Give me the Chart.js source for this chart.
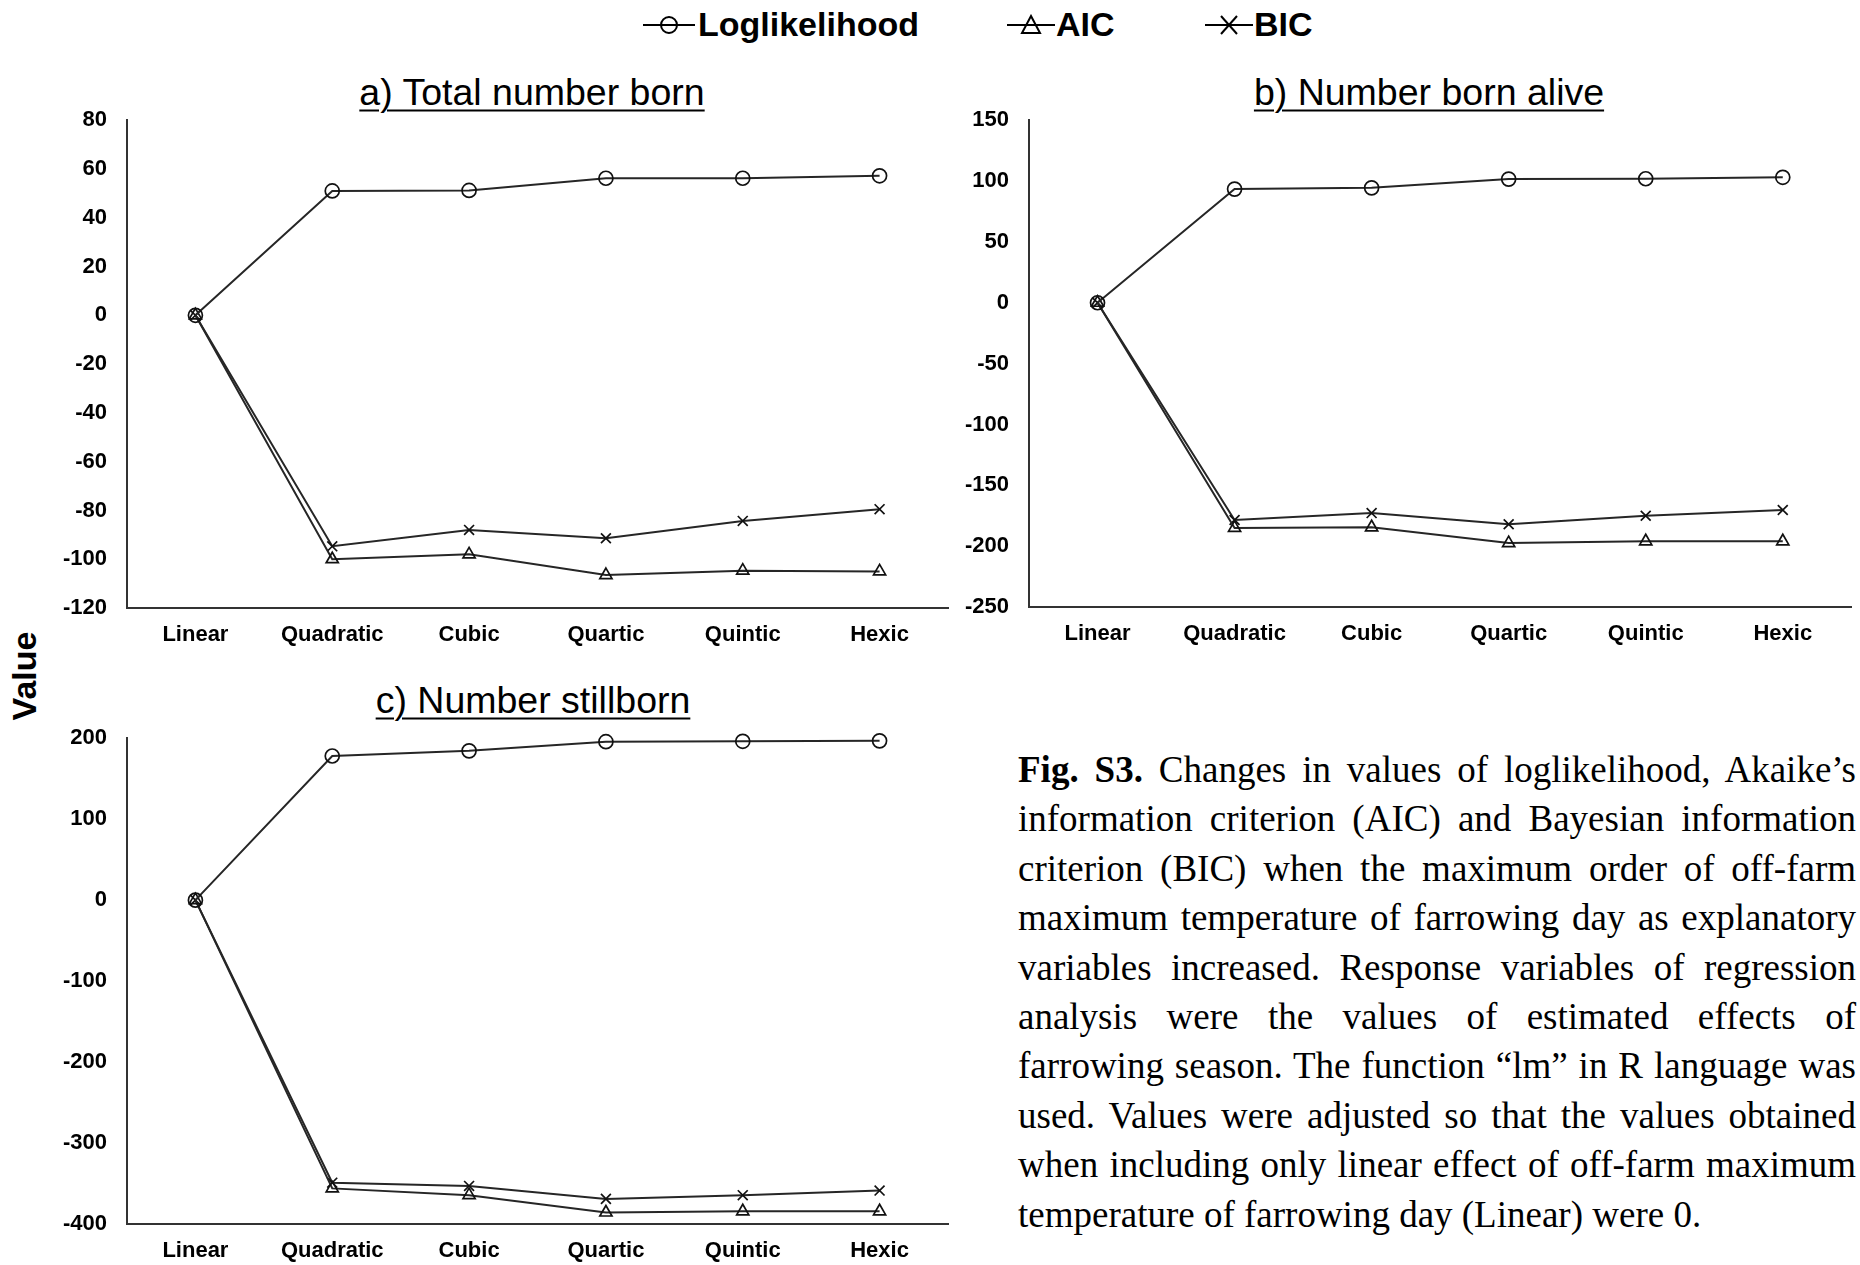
<!DOCTYPE html>
<html>
<head>
<meta charset="utf-8">
<script src="https://cdn.jsdelivr.net/npm/chart.js@4.4.1/dist/chart.umd.min.js"></script>
<style>
body { margin: 0; width: 1860px; height: 1265px; background: #fff; position: relative; overflow: hidden;
       font-family: "Liberation Sans", Arial, sans-serif; color: #000; }
canvas { position: absolute; }
.title { position: absolute; font-size: 37.5px; text-decoration: underline; text-decoration-thickness: 2px;
         text-underline-offset: 5px; transform: translate(-50%, -50%); white-space: nowrap; }
.leg { position: absolute; font-weight: bold; font-size: 34px; line-height: 40px; top: 4px; }
.legsym { position: absolute; top: 14px; }
.ylab { position: absolute; left: 24px; top: 676px; font-weight: bold; font-size: 34px;
        transform: translate(-50%, -50%) rotate(-90deg); }
.caption { position: absolute; left: 1018px; top: 745px; width: 838px; font-family: "Liberation Serif", "Times New Roman", serif;
           font-size: 37px; line-height: 49.4px; }
.caption div { text-align: justify; text-align-last: justify; }
.caption div.last { text-align-last: left; }
</style>
</head>
<body>

<svg class="legsym" style="left:643px" width="52" height="22"><line x1="0" y1="11" x2="52" y2="11" stroke="#000" stroke-width="2"/><circle cx="26" cy="11" r="8" fill="none" stroke="#000" stroke-width="2"/></svg>
<div class="leg" style="left:698px">Loglikelihood</div>
<svg class="legsym" style="left:1007px" width="48" height="22"><line x1="0" y1="11" x2="48" y2="11" stroke="#000" stroke-width="2"/><polygon points="24,2 33,19 15,19" fill="none" stroke="#000" stroke-width="2"/></svg>
<div class="leg" style="left:1056px">AIC</div>
<svg class="legsym" style="left:1205px" width="48" height="22"><line x1="0" y1="11" x2="48" y2="11" stroke="#000" stroke-width="2"/><line x1="16" y1="2" x2="32" y2="20" stroke="#000" stroke-width="2"/><line x1="32" y1="2" x2="16" y2="20" stroke="#000" stroke-width="2"/></svg>
<div class="leg" style="left:1254px">BIC</div>

<div class="title" style="left:532px; top:92px">a) Total number born</div>
<div class="title" style="left:1429px; top:92px">b) Number born alive</div>
<div class="title" style="left:533px; top:700px">c) Number stillborn</div>
<div class="ylab">Value</div>

<canvas id="chartA" width="930" height="583" style="left:30px; top:87px"></canvas>
<canvas id="chartB" width="905" height="583" style="left:955px; top:87px"></canvas>
<canvas id="chartC" width="930" height="560" style="left:30px; top:705px"></canvas>

<div class="caption">
<div><b>Fig. S3.</b> Changes in values of loglikelihood, Akaike’s</div>
<div>information criterion (AIC) and Bayesian information</div>
<div>criterion (BIC) when the maximum order of off-farm</div>
<div>maximum temperature of farrowing day as explanatory</div>
<div>variables increased. Response variables of regression</div>
<div>analysis were the values of estimated effects of</div>
<div>farrowing season. The function “lm” in R language was</div>
<div>used. Values were adjusted so that the values obtained</div>
<div>when including only linear effect of off-farm maximum</div>
<div class="last">temperature of farrowing day (Linear) were 0.</div>
</div>

<script>
// categories
var orders = ['Linear', 'Quadratic', 'Cubic', 'Quartic', 'Quintic', 'Hexic'];

// a) Total number born
var totalLoglik = [0, 51, 51.2, 56.2, 56.2, 57.2];
var totalAIC = [0, -100, -98, -106.5, -104.7, -105];
var totalBIC = [0, -94.7, -88, -91.4, -84.3, -79.5];
var totalTicks = [-120, 80, 20];   // min, max, step

// b) Number born alive
var aliveLoglik = [0, 93.4, 94.4, 101.6, 101.9, 103.1];
var aliveAIC = [0, -185, -184.5, -197.5, -196, -196];
var aliveBIC = [0, -178.5, -172.8, -182, -175, -170.3];
var aliveTicks = [-250, 150, 50];

// c) Number stillborn
var stillLoglik = [0, 178, 184.4, 195.7, 196.2, 196.7];
var stillAIC = [0, -356, -364.4, -385.8, -384.3, -384.3];
var stillBIC = [0, -349, -353, -369, -364.4, -358.7];
var stillTicks = [-400, 200, 100];

var lineColor = '#262626';
var fontFamily = '"Liberation Sans", Arial, sans-serif';

function series(label, data, style) {
    return {
        label: label,
        data: data,
        borderColor: lineColor,
        borderWidth: 2,
        pointStyle: style,
        pointRadius: 7,
        pointBorderWidth: 1.7,
        pointBorderColor: '#111',
        pointBackgroundColor: 'rgba(0,0,0,0)',
        tension: 0,
        clip: false
    };
}

function makePanel(id, loglik, aic, bic, ticks, yWidth, xHeight, pad) {
    var ctx = document.getElementById(id).getContext('2d');
    return new Chart(ctx, {
        type: 'line',
        data: {
            labels: orders,
            datasets: [
                series('Loglikelihood', loglik, 'circle'),
                series('AIC', aic, 'triangle'),
                series('BIC', bic, 'crossRot')
            ]
        },
        options: {
            responsive: false,
            animation: false,
            devicePixelRatio: 1,
            layout: { padding: pad },
            plugins: { legend: { display: false }, tooltip: { enabled: false } },
            scales: {
                x: {
                    offset: true,
                    grid: { display: false, drawTicks: false },
                    border: { display: true, color: '#333', width: 2 },
                    ticks: { color: '#000', padding: 14, font: { family: fontFamily, size: 22, weight: 'bold' } },
                    afterFit: function (s) { s.height = xHeight; }
                },
                y: {
                    min: ticks[0],
                    max: ticks[1],
                    grid: { display: false, drawTicks: false },
                    border: { display: true, color: '#333', width: 2 },
                    ticks: { stepSize: ticks[2], color: '#000', padding: 20, font: { family: fontFamily, size: 22, weight: 'bold' } },
                    afterFit: function (s) { s.width = yWidth; }
                }
            }
        }
    });
}

var chartA = makePanel('chartA', totalLoglik, totalAIC, totalBIC, totalTicks, 97, 62, { top: 19, right: 12, left: 0, bottom: 0 });
var chartB = makePanel('chartB', aliveLoglik, aliveAIC, aliveBIC, aliveTicks, 74, 63, { top: 19, right: 8, left: 0, bottom: 0 });
var chartC = makePanel('chartC', stillLoglik, stillAIC, stillBIC, stillTicks, 97, 41, { top: 22, right: 12, left: 0, bottom: 0 });
</script>
</body>
</html>
